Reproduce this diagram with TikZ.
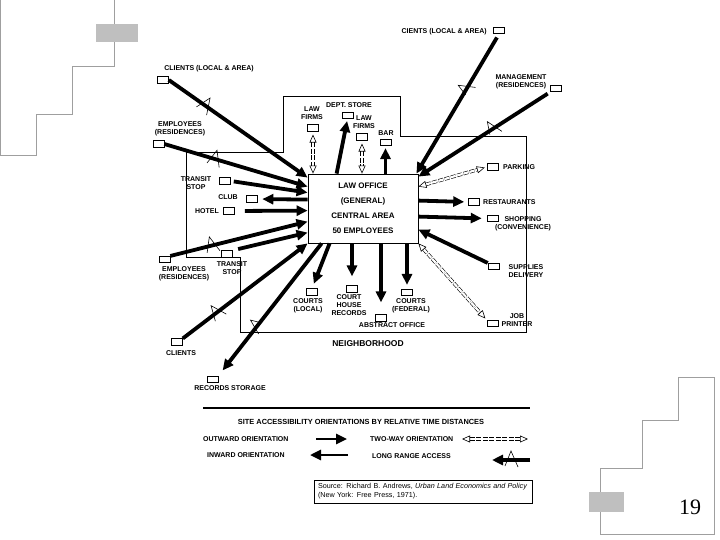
\documentclass[tikz,border=0pt]{standalone}
\usepackage{fontspec}
\setmainfont{Liberation Sans}
\newfontfamily\pagenum{Liberation Serif}
\usetikzlibrary{arrows.meta}

\begin{document}
\begin{tikzpicture}[x=1pt, y=-1pt, >=Stealth,
    site/.style={draw, line width=0.6pt, minimum width=11pt, minimum height=6.5pt, inner sep=0pt},
    lbl/.style={font=\fontsize{7}{8}\selectfont\bfseries, inner sep=0pt, align=center},
    flow/.style={line width=3.8pt, -{Triangle[length=11pt,width=10pt]}},
    twoway/.style={line width=0.6pt, double distance=2.2pt, dash pattern=on 5pt off 1.5pt, {Triangle[open,length=8pt,width=7pt]}-{Triangle[open,length=8pt,width=7pt]}},
    deco/.style={draw=gray!75, line width=0.8pt},
    lrmark/.pic={\draw[line width=0.6pt, solid, -] (-6pt,-6pt) -- (0pt,9pt) -- (7pt,-7pt);}]
    \useasboundingbox (0,0) rectangle (720,540);

    % Trang trí góc
    \draw[deco] (0.5,0) -- (0.5,155) -- (36,155) -- (36,114) -- (72,114) -- (72,66) -- (114,66) -- (114,0);
    \fill[gray!50] (96,24) rectangle (138,42);
    \draw[deco] (678,377) -- (714,377) -- (714,534) -- (600,534) -- (600,468) -- (642,468) -- (642,420) -- (678,420) -- cycle;
    \fill[gray!50] (589,492) rectangle (624,512);
    \node[font=\pagenum\fontsize{22}{22}\selectfont] (pageno) at (690,507) {19};

    % Khu vực lân cận
    \draw[line width=0.6pt] (186,152) -- (283,152) -- (283,96) -- (400,96) -- (400,136) -- (526,136) -- (526,332) -- (240,332) -- (240,257) -- (186,257) -- cycle;
    \node[font=\fontsize{8.5}{9}\selectfont\bfseries] (nbhd) at (368,344) {NEIGHBORHOOD};

    % Văn phòng luật
    \node[draw, line width=0.8pt, minimum width=110pt, minimum height=69pt, font=\fontsize{8}{15}\selectfont\bfseries, align=center] (office) at (363,208.5) {LAW OFFICE\\(GENERAL)\\CENTRAL AREA\\50 EMPLOYEES};

    % Các địa điểm bên trái
    \node[site] (clA) at (163,80) {};
    \node[lbl] (clAtxt) at (209,69) {CLIENTS (LOCAL \& AREA)};
    \node[site] (emA) at (158.5,144) {};
    \node[lbl] (emAtxt) at (180,129) {EMPLOYEES\\(RESIDENCES)};
    \node[site] (trA) at (225,181) {};
    \node[lbl] (trAtxt) at (196,183) {TRANSIT\\STOP};
    \node[site] (club) at (251.5,199) {};
    \node[lbl] (clubtxt) at (228,197) {CLUB};
    \node[site] (hotel) at (229,211) {};
    \node[lbl] (hoteltxt) at (207,211) {HOTEL};
    \node[site] (emB) at (164.5,259.5) {};
    \node[lbl] (emBtxt) at (184,274) {EMPLOYEES\\(RESIDENCES)};
    \node[site] (trB) at (226.5,254) {};
    \node[lbl] (trBtxt) at (232,268) {TRANSIT\\STOP};
    \node[site] (clB) at (177,342) {};
    \node[lbl] (clBtxt) at (181,353) {CLIENTS};
    \node[site] (recst) at (212.5,379.5) {};
    \node[lbl] (recsttxt) at (230,388) {RECORDS STORAGE};

    % Các địa điểm bên dưới
    \node[site] (crtL) at (312,292) {};
    \node[lbl] (crtLtxt) at (308,306) {COURTS\\(LOCAL)};
    \node[site] (chr) at (352,289) {};
    \node[lbl] (chrtxt) at (349,305.5) {COURT\\HOUSE\\RECORDS};
    \node[site] (abs) at (381,318) {};
    \node[lbl] (abstxt) at (392,325.5) {ABSTRACT OFFICE};
    \node[site] (crtF) at (407,292.5) {};
    \node[lbl] (crtFtxt) at (411,306) {COURTS\\(FEDERAL)};

    % Các địa điểm bên phải
    \node[site] (job) at (492.5,323.5) {};
    \node[lbl] (jobtxt) at (517,320) {JOB\\PRINTER};
    \node[site] (sup) at (493.5,266.5) {};
    \node[lbl] (suptxt) at (526,271) {SUPPLIES\\DELIVERY};
    \node[site] (shop) at (492.5,218.5) {};
    \node[lbl] (shoptxt) at (523,224) {SHOPPING\\(CONVENIENCE)};
    \node[site] (rest) at (474,202) {};
    \node[lbl, anchor=west] (resttxt) at (483,202) {RESTAURANTS};
    \node[site] (park) at (492.5,167) {};
    \node[lbl, anchor=west] (parktxt) at (503,167) {PARKING};
    \node[site] (mgmt) at (556,88.5) {};
    \node[lbl] (mgmttxt) at (521,82) {MANAGEMENT\\(RESIDENCES)};
    \node[site] (clC) at (499,30.5) {};
    \node[lbl, anchor=east] (clCtxt) at (487,32) {CIENTS (LOCAL \& AREA)};

    % Các địa điểm phía trên
    \node[site] (lfL) at (313,128) {};
    \node[lbl] (lfLtxt) at (312,113.5) {LAW\\FIRMS};
    \node[site] (dept) at (347.5,115.5) {};
    \node[lbl] (depttxt) at (349,105) {DEPT. STORE};
    \node[site] (lfR) at (362,137) {};
    \node[lbl] (lfRtxt) at (364,122) {LAW\\FIRMS};
    \node[site] (bar) at (385.5,142.5) {};
    \node[lbl] (bartxt) at (386,133) {BAR};

    % Mũi tên bên trái
    \draw[flow] (clA.east) -- ([yshift=-4pt]office.north west) pic[pos=0.26, sloped]{lrmark};
    \draw[flow] (emA.east) -- ([yshift=-13pt]office.north west) pic[pos=0.35, sloped]{lrmark};
    \draw[flow, shorten <=3pt] (trA.east) -- ([yshift=-19pt]office.north west);
    \draw[flow, shorten >=5pt] ([yshift=-26pt]office.north west) -- (club.east);
    \draw[flow, shorten <=10pt] (hotel.east) -- ([yshift=-37pt]office.north west);
    \draw[flow] (emB.north east) -- ([yshift=-48pt]office.north west) pic[pos=0.30, sloped]{lrmark};
    \draw[flow, shorten <=6pt] (trB.north east) -- ([yshift=-59pt]office.north west);
    \draw[flow] (clB.north east) -- (office.south west) pic[pos=0.27, sloped]{lrmark};
    \draw[flow, shorten >=7pt] ([xshift=14pt]office.south west) -- (recst.north east) pic[pos=0.62, sloped]{lrmark};

    % Mũi tên bên dưới
    \draw[flow, shorten >=5pt] ([xshift=22pt]office.south west) -- (crtL.north);
    \draw[flow, shorten >=9pt] (chr.north |- office.south) -- (chr.north);
    \draw[flow, shorten >=12pt] (abs.north |- office.south) -- (abs.north);
    \draw[flow, shorten >=4pt] (crtF.north |- office.south) -- (crtF.north);

    % Mũi tên bên phải
    \draw[twoway, shorten >=2pt] (office.south east) -- (job.north west);
    \draw[flow] (sup.north west) -- ([yshift=-56pt]office.north east);
    \draw[flow, shorten >=5pt] ([yshift=-43pt]office.north east) -- (shop.west);
    \draw[flow, shorten >=4pt] ([yshift=-27pt]office.north east) -- (rest.west);
    \draw[twoway, shorten >=2pt] ([yshift=-13pt]office.north east) -- (park.west);
    \draw[flow, shorten <=3pt] (mgmt.south west) -- ([yshift=-3pt]office.north east) pic[pos=0.44, sloped]{lrmark};
    \draw[flow, shorten <=4pt] (clC.south) -- ([xshift=-2pt]office.north east) pic[pos=0.40, sloped]{lrmark};

    % Mũi tên phía trên
    \draw[twoway, shorten <=3pt] (lfL.south) -- (lfL.south |- office.north);
    \draw[flow, shorten >=2pt] ([xshift=29pt]office.north west) -- (dept.south);
    \draw[twoway, shorten <=3pt] (lfR.south) -- (lfR.south |- office.north);
    \draw[flow, shorten >=2pt] (bar.south |- office.north) -- (bar.south);

    % Chú giải
    \draw[line width=1.2pt] (203,408) -- (530,408);
    \node[lbl, font=\fontsize{7.4}{8}\selectfont\bfseries] (legtitle) at (361,422) {SITE ACCESSIBILITY ORIENTATIONS BY RELATIVE TIME DISTANCES};
    \node[lbl, anchor=west] (outtxt) at (203,439) {OUTWARD ORIENTATION};
    \node[lbl, anchor=west] (intxt) at (207,455) {INWARD ORIENTATION};
    \node[lbl, anchor=west] (twotxt) at (370,439) {TWO-WAY ORIENTATION};
    \node[lbl, anchor=west] (lrtxt) at (372,456) {LONG RANGE ACCESS};
    \coordinate (outA) at (316,439);
    \coordinate (outB) at (347,439);
    \coordinate (inA) at (348,455);
    \coordinate (inB) at (310,455);
    \coordinate (twoA) at (462,439);
    \coordinate (twoB) at (528,439);
    \coordinate (lrA) at (530,460);
    \coordinate (lrB) at (492,460);
    \draw[flow, line width=2.6pt] (outA) -- (outB);
    \draw[flow, line width=2.6pt] (inA) -- (inB);
    \draw[twoway] (twoA) -- (twoB);
    \draw[flow] (lrA) -- (lrB) pic[pos=0.5, sloped]{lrmark};

    % Nguồn
    \node[draw, line width=0.8pt, minimum width=218pt, minimum height=23pt, text width=210pt, align=left, font=\fontsize{7.2}{9}\selectfont] (src) at (423,491.5) {Source: Richard B. Andrews, \textit{Urban Land Economics and Policy}\\(New York: Free Press, 1971).};
\end{tikzpicture}
\end{document}
